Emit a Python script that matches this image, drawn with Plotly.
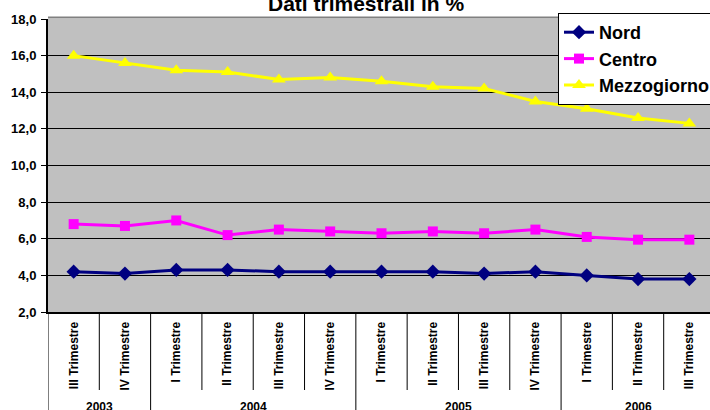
import plotly.graph_objects as go

quarters = ["III Trimestre", "IV Trimestre", "I Trimestre", "II Trimestre", "III Trimestre",
            "IV Trimestre", "I Trimestre", "II Trimestre", "III Trimestre", "IV Trimestre",
            "I Trimestre", "II Trimestre", "III Trimestre"]
years = ["2003", "2003", "2004", "2004", "2004", "2004", "2005", "2005", "2005", "2005",
         "2006", "2006", "2006"]
nord = [4.2, 4.1, 4.3, 4.3, 4.2, 4.2, 4.2, 4.2, 4.1, 4.2, 4.0, 3.8, 3.8]
centro = [6.8, 6.7, 7.0, 6.2, 6.5, 6.4, 6.3, 6.4, 6.3, 6.5, 6.1, 5.95, 5.95]
mezzogiorno = [16.0, 15.6, 15.2, 15.1, 14.7, 14.8, 14.6, 14.3, 14.2, 13.5, 13.1, 12.6, 12.3]
y_ticks = [2, 4, 6, 8, 10, 12, 14, 16, 18]
y_tick_labels = ["2,0", "4,0", "6,0", "8,0", "10,0", "12,0", "14,0", "16,0", "18,0"]
title_text = "Dati trimestrali in %"

FONT = "Arial, Liberation Sans, sans-serif"
W, H = 716, 410
PLOT_L, PLOT_T, PLOT_B = 48, 19, 312   # plot area in page pixels
PLOT_W = 667
ML, MT, MB = PLOT_L, PLOT_T, H - PLOT_B
MR = W - ML - PLOT_W
plot_h = PLOT_B - PLOT_T

def py(pix):
    # page pixel row -> paper y
    return (PLOT_B - pix) / plot_h

def px(pix):
    return (pix - PLOT_L) / PLOT_W

xs = list(range(len(quarters)))

fig = go.Figure()
fig.add_trace(go.Scatter(x=xs, y=nord, name="<b>Nord</b>", mode="lines+markers",
                         line=dict(color="#000080", width=3),
                         marker=dict(symbol="diamond", size=11, color="#000080")))
fig.add_trace(go.Scatter(x=xs, y=centro, name="<b>Centro</b>", mode="lines+markers",
                         line=dict(color="#FF00FF", width=3),
                         marker=dict(symbol="square", size=10, color="#FF00FF")))
fig.add_trace(go.Scatter(x=xs, y=mezzogiorno, name="<b>Mezzogiorno</b>", mode="lines+markers",
                         line=dict(color="#FFFF00", width=3),
                         marker=dict(symbol="triangle-up", size=12, color="#FFFF00")))

shapes = []
shapes.append(dict(type="line", xref="x", yref="paper", x0=-0.5, x1=-0.5,
                   y0=0, y1=py(420), line=dict(color="black", width=1)))
for i in range(1, len(quarters)):
    long_line = years[i] != years[i - 1]
    shapes.append(dict(type="line", xref="x", yref="paper", x0=i - 0.5, x1=i - 0.5,
                       y0=0, y1=py(420 if long_line else 390),
                       line=dict(color="black", width=1)))
shapes.append(dict(type="line", xref="paper", yref="paper", x0=0, x1=1, y0=py(17.5), y1=py(17.5),
                   line=dict(color="#808080", width=2)))

annotations = []
groups = []
for i, yv in enumerate(years):
    if not groups or groups[-1][0] != yv:
        groups.append([yv, i, i])
    else:
        groups[-1][2] = i
for yv, a, b in groups:
    annotations.append(dict(text="<b>" + yv + "</b>", xref="x", yref="paper", x=(a + b) / 2,
                            y=py(398), yanchor="top", xanchor="center", showarrow=False,
                            font=dict(family=FONT, size=12, color="black")))
annotations.append(dict(text="<b>" + title_text + "</b>", xref="paper", yref="paper",
                        x=px(366), y=py(17), yanchor="bottom", xanchor="center",
                        showarrow=False, font=dict(family=FONT, size=21, color="black")))

fig.update_layout(
    width=W, height=H,
    margin=dict(l=ML, r=MR, t=MT, b=MB, pad=0, autoexpand=False),
    paper_bgcolor="white", plot_bgcolor="#C0C0C0",
    font=dict(family=FONT, color="black"),
    showlegend=True,
    legend=dict(x=1, xanchor="right", y=py(13), yanchor="top",
                bgcolor="white", bordercolor="black", borderwidth=1,
                font=dict(family=FONT, size=18, color="black"),
                itemwidth=30, tracegroupgap=0),
    xaxis=dict(range=[-0.5, len(quarters) - 0.5], tickmode="array", tickvals=xs,
               ticktext=["<b>" + q + "</b>" for q in quarters], tickangle=-90,
               showgrid=False, zeroline=False, automargin=False,
               showline=True, linecolor="black", linewidth=2, ticks="",
               ticklabelstandoff=3,
               tickfont=dict(family=FONT, size=12, color="black")),
    yaxis=dict(range=[2, 18], tickmode="array", tickvals=y_ticks,
               ticktext=["<b>" + t + "</b>" for t in y_tick_labels],
               showgrid=True, gridcolor="black", automargin=False,
               gridwidth=1, zeroline=False, showline=True, linecolor="black", linewidth=2,
               ticks="outside", ticklen=5, tickcolor="black", ticklabelstandoff=2,
               tickfont=dict(family=FONT, size=13, color="black")),
    shapes=shapes, annotations=annotations,
)

fig.write_html("out.html", config={"displayModeBar": False},
               post_script="document.body.style.margin='0';document.body.style.overflow='hidden';")
